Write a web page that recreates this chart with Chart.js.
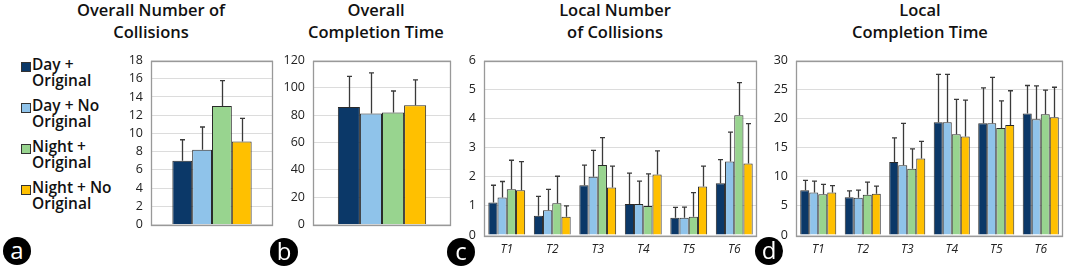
<!DOCTYPE html>
<html>
<head>
<meta charset="utf-8">
<script src="https://cdn.jsdelivr.net/npm/chart.js@4"></script>
<style>
  html, body { margin:0; padding:0; background:#fff; }
  body { width:1065px; height:268px; position:relative; overflow:hidden; font-family:"Open Sans", sans-serif; }
  .cv { position:absolute; }
  .title { position:absolute; top:-1px; width:220px; margin-left:-110px; text-align:center; font-weight:600; font-size:16.5px; line-height:22px; color:#111; white-space:nowrap; }
  .legend { position:absolute; left:20px; top:57px; font-weight:600; font-size:15.5px; line-height:15.5px; color:#111; }
  .item { position:relative; padding-left:12px; height:41px; }
  .sw { position:absolute; left:1px; top:5px; width:8px; height:8px; border:1px solid #333; }
  .circ { position:absolute; width:28px; height:28px; border-radius:50%; background:#000; color:#fff; text-align:center; font-size:24px; line-height:26px; font-family:"Open Sans", sans-serif; font-weight:400; }
</style>
</head>
<body>
<div class="title" style="left:151px">Overall Number of<br>Collisions</div>
<div class="title" style="left:376px">Overall<br>Completion Time</div>
<div class="title" style="left:615px">Local Number<br>of Collisions</div>
<div class="title" style="left:920px">Local<br>Completion Time</div>
<div class="legend" id="legend"></div>

<canvas class="cv" id="cA" style="left:95px;top:45px;width:180px;height:195px" width="180" height="195"></canvas>
<canvas class="cv" id="cB" style="left:280px;top:45px;width:173px;height:195px" width="173" height="195"></canvas>
<canvas class="cv" id="cC" style="left:455px;top:45px;width:305px;height:220px" width="305" height="220"></canvas>
<canvas class="cv" id="cD" style="left:765px;top:45px;width:300px;height:220px" width="300" height="220"></canvas>

<div class="circ" style="left:3px;top:237px">a</div>
<div class="circ" style="left:270px;top:238px">b</div>
<div class="circ" style="left:447px;top:238px">c</div>
<div class="circ" style="left:755px;top:237px">d</div>

<script>
// ---------- data ----------
const seriesNames = ["Day + Original", "Day + No Original", "Night + Original", "Night + No Original"];
const legendLines = [["Day +", "Original"], ["Day + No", "Original"], ["Night +", "Original"], ["Night + No", "Original"]];
const seriesColors = ["#0b3868", "#8fc3ea", "#98d48f", "#ffc000"];
const taskLabels = ["T1", "T2", "T3", "T4", "T5", "T6"];

// Panel a: overall number of collisions (one value per series)
const overallCollMean = [7.0, 8.2, 13.0, 9.1];
const overallCollSD   = [2.3, 2.5, 2.8, 2.55];
// Panel b: overall completion time
const overallTimeMean = [86.0, 81.3, 82.0, 87.2];
const overallTimeSD   = [22.4, 29.7, 15.7, 18.6];

// Panel c: local number of collisions, per task (rows = series)
const localCollMean = [
  [1.12, 0.66, 1.71, 1.07, 0.59, 1.78],
  [1.29, 0.85, 2.00, 1.07, 0.59, 2.53],
  [1.57, 1.09, 2.41, 1.00, 0.63, 4.12],
  [1.54, 0.63, 1.63, 2.08, 1.67, 2.46]
];
const localCollSD = [
  [0.59, 0.67, 0.69, 1.06, 0.36, 0.81],
  [0.55, 0.72, 0.91, 0.78, 0.37, 1.01],
  [1.00, 0.93, 0.94, 1.10, 0.83, 1.12],
  [0.98, 0.37, 0.74, 0.81, 0.70, 1.37]
];
// Panel d: local completion time
const localTimeMean = [
  [7.7, 6.5, 12.55, 19.4, 19.2, 20.9],
  [7.3, 6.4, 12.0, 19.4, 19.2, 19.9],
  [7.0, 6.9, 11.4, 17.3, 18.4, 20.75],
  [7.3, 7.1, 13.15, 16.95, 18.9, 20.25]
];
const localTimeSD = [
  [1.7, 1.1, 4.15, 8.2, 6.1, 4.8],
  [1.95, 1.3, 7.2, 8.2, 7.9, 5.75],
  [1.7, 2.2, 3.4, 6.0, 4.65, 4.15],
  [1.2, 1.3, 2.95, 6.25, 5.9, 5.15]
];

// ---------- legend ----------
const lg = document.getElementById('legend');
legendLines.forEach((lines, i) => {
  const d = document.createElement('div');
  d.className = 'item';
  d.innerHTML = '<span class="sw" style="background:' + seriesColors[i] + '"></span>' + lines.join('<br>');
  lg.appendChild(d);
});

// ---------- plugins ----------
const errorBars = {
  id: 'errorBars',
  afterDatasetsDraw(chart) {
    const ctx = chart.ctx;
    const ys = chart.scales.y;
    ctx.save();
    ctx.strokeStyle = '#3a3a3a';
    ctx.lineWidth = 1.3;
    chart.data.datasets.forEach((ds, di) => {
      const meta = chart.getDatasetMeta(di);
      meta.data.forEach((bar, i) => {
        const top = ys.getPixelForValue(ds.data[i] + ds.sd[i]);
        const x = Math.round(bar.x) + 0.5;
        ctx.beginPath();
        ctx.moveTo(x, bar.y);
        ctx.lineTo(x, top);
        ctx.moveTo(x - 2.5, top);
        ctx.lineTo(x + 2.5, top);
        ctx.stroke();
      });
    });
    ctx.restore();
  }
};
const frame = {
  id: 'frame',
  afterDraw(chart) {
    const a = chart.chartArea, ctx = chart.ctx;
    ctx.save();
    ctx.strokeStyle = '#999';
    ctx.lineWidth = 1.3;
    ctx.strokeRect(Math.round(a.left) + 0.5, Math.round(a.top) + 0.5, Math.round(a.right - a.left) - 1, Math.round(a.bottom - a.top));
    ctx.restore();
  }
};

function makeChart(id, labels, means, sds, opts) {
  const datasets = means.map((m, i) => ({
    label: seriesNames[i],
    data: m,
    sd: sds[i],
    backgroundColor: seriesColors[i],
    borderColor: '#2a2a2a',
    borderWidth: 1,
    barPercentage: 1.0,
    categoryPercentage: opts.catPct
  }));
  return new Chart(document.getElementById(id), {
    type: 'bar',
    data: { labels, datasets },
    options: {
      responsive: false,
      animation: false,
      devicePixelRatio: 1,
      layout: { padding: opts.padding },
      plugins: { legend: { display: false }, tooltip: { enabled: false }, title: { display: false } },
      scales: {
        x: {
          display: opts.showX,
          grid: { display: false, drawTicks: false },
          border: { display: false },
          ticks: { padding: 7, color: '#222', font: { family: 'Open Sans', size: 12, style: 'italic' } },
          afterFit: s => { s.height = opts.xH; }
        },
        y: {
          min: 0, max: opts.max,
          grid: { color: '#dcdcdc', lineWidth: 1, drawTicks: false },
          border: { display: false },
          ticks: { stepSize: opts.step, padding: 8, color: '#222', font: { family: 'Open Sans', size: 12.5 } },
          afterFit: s => { s.width = opts.yW; }
        }
      }
    },
    plugins: [errorBars, frame]
  });
}

makeChart('cA', [''], overallCollMean.map(v => [v]), overallCollSD.map(v => [v]),
  { catPct: 0.65, max: 18, step: 2, yW: 56, xH: 0, showX: false, padding: { top: 8, right: 2, bottom: 4, left: 0 } });
makeChart('cB', [''], overallTimeMean.map(v => [v]), overallTimeSD.map(v => [v]),
  { catPct: 0.64, max: 120, step: 20, yW: 33, xH: 0, showX: false, padding: { top: 8, right: 2, bottom: 4, left: 0 } });
makeChart('cC', taskLabels, localCollMean, localCollSD,
  { catPct: 0.81, max: 6, step: 1, yW: 29, xH: 30, showX: true, padding: { top: 8, right: 3, bottom: 0, left: 0 } });
makeChart('cD', taskLabels, localTimeMean, localTimeSD,
  { catPct: 0.81, max: 30, step: 5, yW: 31, xH: 30, showX: true, padding: { top: 8, right: 2, bottom: 0, left: 0 } });
</script>
</body>
</html>
